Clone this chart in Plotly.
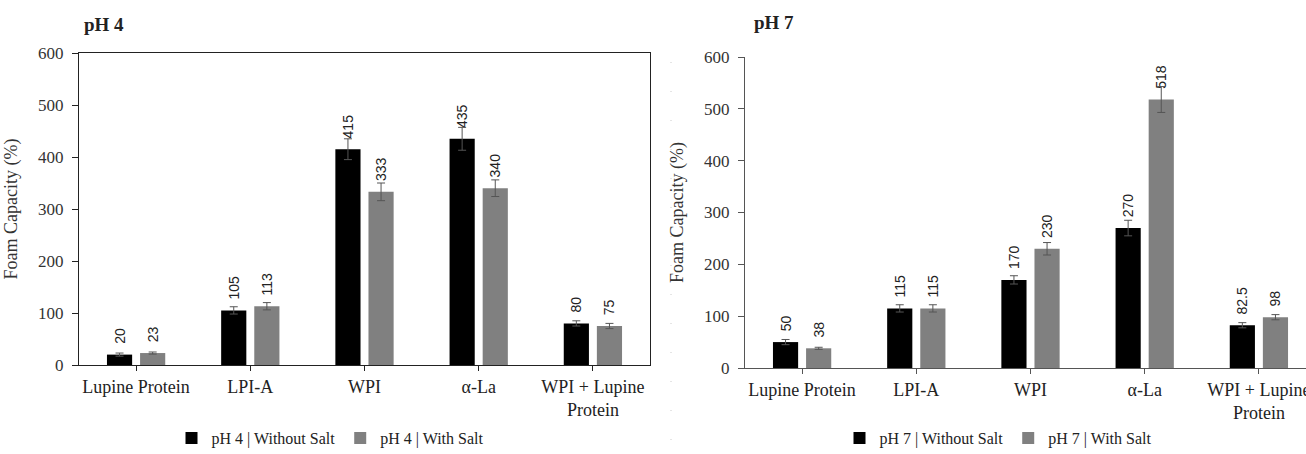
import plotly.graph_objects as go

categories = ["Lupine Protein", "LPI-A", "WPI", "α-La", "WPI + Lupine<br>Protein"]

ph4_without = [20, 105, 415, 435, 80]
ph4_without_err = [3, 7, 20, 22, 5]
ph4_with = [23, 113, 333, 340, 75]
ph4_with_err = [2, 7, 17, 16, 5]

ph7_without = [50, 115, 170, 270, 82.5]
ph7_without_err = [5, 7, 8, 15, 5]
ph7_with = [38, 115, 230, 518, 98]
ph7_with_err = [2, 7, 12, 25, 5]

y_ticks = [0, 100, 200, 300, 400, 500, 600]

W, H = 1306, 454
SERIF = "Liberation Serif, Times New Roman, serif"
SANS = "Liberation Sans, Arial, sans-serif"
BLACK = "#000000"
GRAY = "#808080"


def lab(v):
    return "\u00a0\u00a0" + ("%g" % v)


def bar(xaxis, yaxis, vals, errs, color, name, legend):
    return go.Bar(
        x=categories, y=vals, name=name, marker=dict(color=color, line=dict(width=0)),
        error_y=dict(type="data", array=errs, color="#555555", thickness=1, width=4),
        text=[lab(v) for v in vals], textposition="outside", textangle=-90,
        constraintext="none", cliponaxis=False,
        textfont=dict(family=SANS, size=14, color="#222222"),
        xaxis=xaxis, yaxis=yaxis, legend=legend,
    )


fig = go.Figure()
fig.add_trace(bar("x", "y", ph4_without, ph4_without_err, BLACK, "pH 4 | Without Salt", "legend"))
fig.add_trace(bar("x", "y", ph4_with, ph4_with_err, GRAY, "pH 4 | With Salt", "legend"))
fig.add_trace(bar("x2", "y2", ph7_without, ph7_without_err, BLACK, "pH 7 | Without Salt", "legend2"))
fig.add_trace(bar("x2", "y2", ph7_with, ph7_with_err, GRAY, "pH 7 | With Salt", "legend2"))

left_x = [79 / W, 650 / W]
right_x = [745 / W, 1.0]
left_y = [1 - 365 / H, 1 - 53 / H]
right_y = [1 - 368 / H, 1 - 57 / H]

cat_w = 114.2
right_units = (W - 745) / cat_w


def xax(domain, anchor, color, mirror, rng):
    return dict(domain=domain, anchor=anchor, type="category", showline=True, linecolor=color,
                linewidth=1.3, mirror=mirror, ticks="outside", ticklen=5, tickcolor=color,
                showgrid=False, range=rng, ticklabelstandoff=0, automargin=False,
                tickfont=dict(family=SERIF, size=18, color="#222222"))


def yax(domain, anchor, color, mirror):
    return dict(domain=domain, anchor=anchor, range=[0, 600], tickvals=y_ticks, showline=True,
                linecolor=color, linewidth=1.3, mirror=mirror, ticks="outside", ticklen=6,
                tickcolor=color, showgrid=False, zeroline=False, ticklabelstandoff=5,
                automargin=False,
                tickfont=dict(family=SERIF, size=17, color="#333333"),
                title=dict(text="Foam Capacity (%)", font=dict(family=SERIF, size=18, color="#333333")))


fig.update_layout(
    width=W, height=H, margin=dict(l=0, r=0, t=0, b=0, autoexpand=False),
    paper_bgcolor="white", plot_bgcolor="white",
    barmode="group", bargap=0.42, bargroupgap=0.24,
    xaxis=xax(left_x, "y", "#222222", True, [-0.5, 4.5]),
    yaxis=yax(left_y, "x", "#222222", True),
    xaxis2=xax(right_x, "y2", "#555555", False, [-0.5, -0.5 + right_units]),
    yaxis2=yax(right_y, "x2", "#555555", False),
    legend=dict(orientation="h", x=330 / W, xanchor="center", y=1 - 438 / H, yanchor="middle",
                font=dict(family=SERIF, size=16, color="#222222"), itemwidth=30,
                bgcolor="rgba(0,0,0,0)"),
    legend2=dict(orientation="h", x=998 / W, xanchor="center", y=1 - 438 / H, yanchor="middle",
                 font=dict(family=SERIF, size=16, color="#222222"), itemwidth=30,
                 bgcolor="rgba(0,0,0,0)"),
    annotations=[
        dict(text="<b>pH 4</b>", xref="paper", yref="paper", x=82 / W, y=1 - 25 / H,
             xanchor="left", yanchor="middle", showarrow=False,
             font=dict(family=SERIF, size=19, color="#222222")),
        dict(text="<b>pH 7</b>", xref="paper", yref="paper", x=752 / W, y=1 - 23 / H,
             xanchor="left", yanchor="middle", showarrow=False,
             font=dict(family=SERIF, size=19, color="#222222")),
    ],
    shapes=[
        dict(type="line", xref="paper", yref="paper", x0=671 / W, x1=671 / W,
             y0=1 - 440 / H, y1=1 - 50 / H, line=dict(color="#cccccc", width=1, dash="1px,28px")),
    ],
)

fig.write_html("out.html", config={"displayModeBar": False},
               post_script="document.body.style.margin='0';document.body.style.overflow='hidden';")
